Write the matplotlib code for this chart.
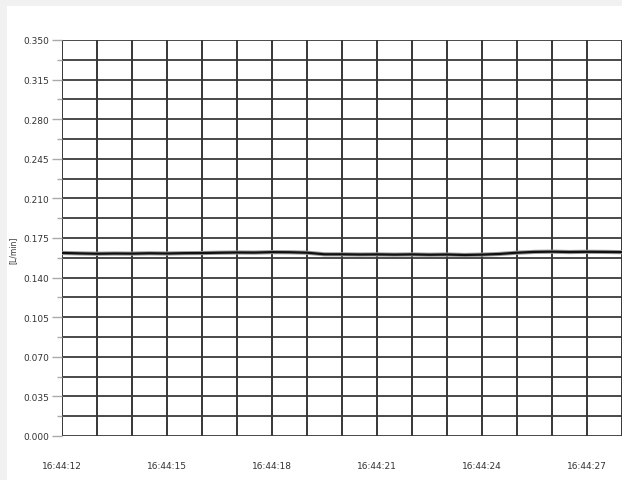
import numpy as np
import matplotlib
matplotlib.use('Agg')
import matplotlib.pyplot as plt
from matplotlib.patches import Rectangle

# flow reading, seconds after 16:44:00 (0.5 s steps)
seconds = [12.0, 12.5, 13.0, 13.5, 14.0, 14.5, 15.0, 15.5, 16.0, 16.5, 17.0,
           17.5, 18.0, 18.5, 19.0, 19.5, 20.0, 20.5, 21.0, 21.5, 22.0, 22.5,
           23.0, 23.5, 24.0, 24.5, 25.0, 25.5, 26.0, 26.5, 27.0, 27.5, 28.0]
flow = [0.1618, 0.1614, 0.1611, 0.1613, 0.1612, 0.1615, 0.1613, 0.1616, 0.1617,
        0.1620, 0.1622, 0.1621, 0.1625, 0.1624, 0.1620, 0.1606, 0.1606, 0.1604,
        0.1605, 0.1603, 0.1605, 0.1602, 0.1604, 0.1600, 0.1603, 0.1609, 0.1620,
        0.1627, 0.1629, 0.1626, 0.1628, 0.1627, 0.1625]

major_secs = [12, 15, 18, 21, 24, 27]
major_labels = ['16:44:%02d' % s for s in major_secs]
y_major = [0.000, 0.035, 0.070, 0.105, 0.140, 0.175, 0.210, 0.245, 0.280, 0.315, 0.350]
y_labels = ['%.3f' % v for v in y_major]

W, H = 622, 481
fig = plt.figure(figsize=(W / 100, H / 100), dpi=100, facecolor='#f1f1f1')
bg = Rectangle((7 / W, 0), 1, (H - 7) / H, transform=fig.transFigure,
               facecolor='white', edgecolor='none', zorder=-10)
fig.add_artist(bg)

ax = fig.add_axes([62 / W, 1 - 437 / H, (W - 62) / W, (437 - 41) / H])
ax.set_facecolor('white')

ax.plot(seconds, flow, color='#999999', lw=3.0, solid_capstyle='butt', zorder=3)
ax.plot(seconds, flow, color='#111111', lw=1.6, zorder=4)

ax.set_xlim(12, 28)
ax.set_ylim(0, 0.350)
ax.set_xticks(major_secs)
ax.set_xticklabels(major_labels)
ax.set_xticks(np.arange(12, 29, 1), minor=True)
ax.set_yticks(y_major)
ax.set_yticklabels(y_labels)
ax.set_yticks(np.arange(0, 0.36, 0.0175), minor=True)

ax.grid(which='both', axis='x', color='#262626', lw=1.3)
ax.grid(which='both', axis='y', color='#3a3a3a', lw=1.3)
ax.set_axisbelow(True)
for sp in ax.spines.values():
    sp.set_visible(False)

ax.tick_params(axis='x', which='both', length=0, pad=18, labelsize=6.5, labelcolor='#333333')
ax.tick_params(axis='y', which='major', length=7, width=1, color='#aaaaaa',
               pad=2, labelsize=6.5, labelcolor='#333333')
ax.tick_params(axis='y', which='minor', length=3.5, width=1, color='#aaaaaa')

fig.text(13 / W, 1 - 250 / H, '[L/min]', rotation=90, ha='center', va='center',
         fontsize=5.5, color='#333333')

fig.savefig('out.png', dpi=100, facecolor=fig.get_facecolor())
